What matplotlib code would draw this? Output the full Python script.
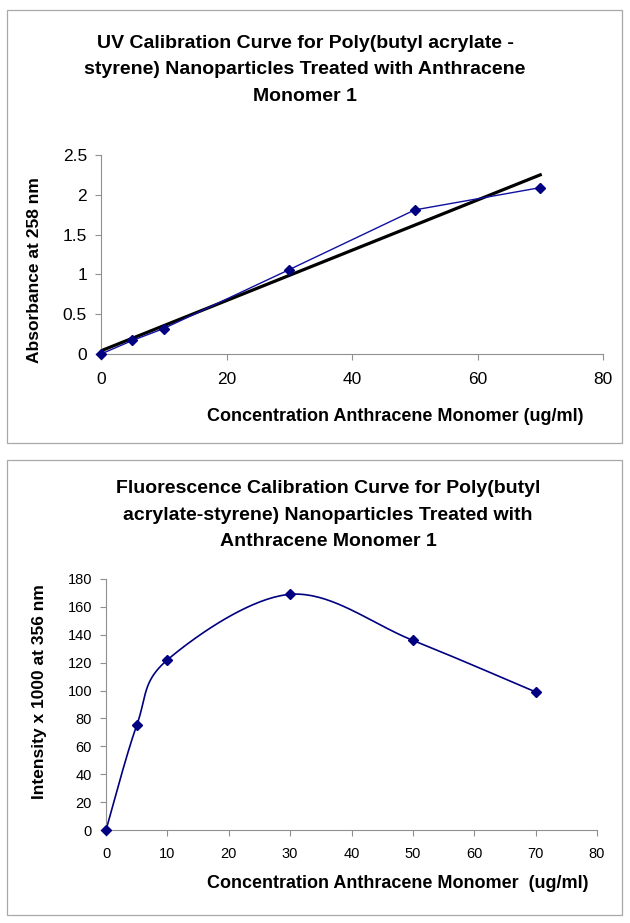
import numpy as np
import matplotlib
matplotlib.use("Agg")
import matplotlib.pyplot as plt
from matplotlib.patches import Rectangle

plt.rcParams["font.family"] = ["Liberation Sans", "DejaVu Sans"]

# UV absorbance data
uv_conc = [0, 5, 10, 30, 50, 70]
uv_abs = [0.0, 0.17, 0.32, 1.06, 1.81, 2.09]

# fluorescence data
fl_conc = [0, 5, 10, 30, 50, 70]
fl_int = [0, 75, 122, 169, 136, 99]

uv_title = ("UV Calibration Curve for Poly(butyl acrylate -\n"
            "styrene) Nanoparticles Treated with Anthracene\n"
            "Monomer 1")
fl_title = ("Fluorescence Calibration Curve for Poly(butyl\n"
            "acrylate-styrene) Nanoparticles Treated with\n"
            "Anthracene Monomer 1")

W, H = 630, 923
NAVY = "#000080"
GRID = "#909090"


def fx(x):
    return x / W


def fy(y):
    return 1 - y / H


def excel_smooth(xs, ys, n=40):
    # Catmull-Rom style bezier, as spreadsheet "smoothed line"
    p = np.column_stack([xs, ys]).astype(float)
    pts = []
    for i in range(len(p) - 1):
        p0 = p[i - 1] if i > 0 else p[i]
        p3 = p[i + 2] if i + 2 < len(p) else p[i + 1]
        c1 = p[i] + (p[i + 1] - p0) / 6
        c2 = p[i + 1] - (p3 - p[i]) / 6
        t = np.linspace(0, 1, n)[:, None]
        seg = ((1 - t) ** 3 * p[i] + 3 * (1 - t) ** 2 * t * c1
               + 3 * (1 - t) * t ** 2 * c2 + t ** 3 * p[i + 1])
        pts.append(seg if i == 0 else seg[1:])
    pts = np.vstack(pts)
    return pts[:, 0], pts[:, 1]


def style_axes(ax, fs):
    for s in ["top", "right"]:
        ax.spines[s].set_visible(False)
    for s in ["left", "bottom"]:
        ax.spines[s].set_color(GRID)
        ax.spines[s].set_linewidth(0.8)
    ax.tick_params(colors=GRID, labelcolor="black", labelsize=fs,
                   length=4, width=0.8, direction="out", pad=6)
    ax.set_facecolor("none")


fig = plt.figure(figsize=(W / 100, H / 100), dpi=100)

# chart boxes
for top, bot in [(10, 443), (460, 915)]:
    fig.patches.append(Rectangle((fx(7), fy(bot)), fx(615), (bot - top) / H,
                                 transform=fig.transFigure, fill=False,
                                 edgecolor="#a8a8a8", linewidth=0.9))

# --- UV chart ---
ax1 = fig.add_axes([fx(101), fy(354), fx(603 - 101), (354 - 155) / H])
style_axes(ax1, 12.5)
slope, icpt = np.polyfit(uv_conc, uv_abs, 1)
xfit = np.array([uv_conc[0], uv_conc[-1]])
ax1.plot(uv_conc, uv_abs, color="#1010a0", linewidth=1.0, marker="D",
         markersize=5.5, markerfacecolor=NAVY, markeredgecolor=NAVY,
         zorder=3, clip_on=False)
ax1.plot(xfit, slope * xfit + icpt, color="black", linewidth=2.3, zorder=2)
ax1.set_xlim(0, 80)
ax1.set_ylim(0, 2.5)
ax1.set_xticks(np.arange(0, 81, 20))
ax1.set_yticks([0, 0.5, 1, 1.5, 2, 2.5])
ax1.set_yticklabels(["0", "0.5", "1", "1.5", "2", "2.5"])
ax1.tick_params(axis="x", pad=9)

fig.text(fx(305), fy(70), uv_title, ha="center", va="center",
         fontsize=14, fontweight="bold", linespacing=1.75)
fig.text(fx(395), fy(417), "Concentration Anthracene Monomer (ug/ml)",
         ha="center", va="center", fontsize=13, fontweight="bold")
fig.text(fx(35), fy(270), "Absorbance at 258 nm", ha="center", va="center",
         rotation=90, fontsize=12.5, fontweight="bold")

# --- fluorescence chart ---
ax2 = fig.add_axes([fx(106), fy(830), fx(597 - 106), (830 - 579) / H])
style_axes(ax2, 10.5)
sx, sy = excel_smooth(fl_conc, fl_int)
ax2.plot(sx, sy, color=NAVY, linewidth=1.2, zorder=2)
ax2.plot(fl_conc, fl_int, linestyle="none", marker="D", markersize=5.5,
         markerfacecolor=NAVY, markeredgecolor=NAVY, zorder=3, clip_on=False)
ax2.set_xlim(0, 80)
ax2.set_ylim(0, 180)
ax2.set_xticks(np.arange(0, 81, 10))
ax2.set_yticks(np.arange(0, 181, 20))
ax2.tick_params(axis="x", pad=8)

fig.text(fx(328), fy(515), fl_title, ha="center", va="center",
         fontsize=14, fontweight="bold", linespacing=1.75)
fig.text(fx(398), fy(884), "Concentration Anthracene Monomer  (ug/ml)",
         ha="center", va="center", fontsize=13, fontweight="bold")
fig.text(fx(40), fy(692), "Intensity x 1000 at 356 nm", ha="center",
         va="center", rotation=90, fontsize=12.5, fontweight="bold")

fig.savefig("out.png", dpi=100)
